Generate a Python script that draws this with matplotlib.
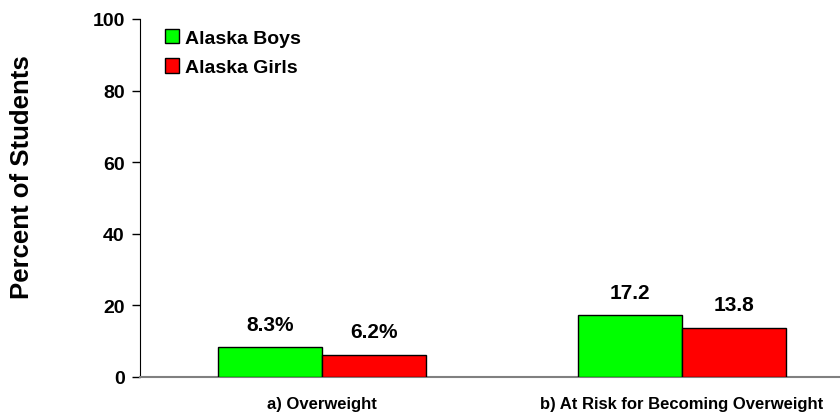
import matplotlib
matplotlib.use("Agg")
import matplotlib.pyplot as plt
import numpy as np

plt.rcParams['font.family'] = ['Liberation Sans', 'DejaVu Sans']

categories = ["a) Overweight", "b) At Risk for Becoming Overweight"]
series_names = ["Alaska Boys", "Alaska Girls"]
boys = [8.3, 17.2]
girls = [6.2, 13.8]
boys_labels = ["8.3%", "17.2"]
girls_labels = ["6.2%", "13.8"]
yticks = [0, 20, 40, 60, 80, 100]

fig = plt.figure(figsize=(8.4, 4.14), dpi=100)
ax = fig.add_axes([140/840, (414-378)/414, 700/840, (378-20)/414])

x = np.arange(len(categories))
w = 0.29
b1 = ax.bar(x - w/2, boys, w, color='#00FF00', edgecolor='black', linewidth=1, label=series_names[0], zorder=3)
b2 = ax.bar(x + w/2, girls, w, color='#FF0000', edgecolor='black', linewidth=1, label=series_names[1], zorder=3)

for rect, lab in zip(b1, boys_labels):
    ax.text(rect.get_x() + rect.get_width()/2, rect.get_height() + 3.8, lab,
            ha='center', va='bottom', fontsize=15, fontweight='bold')
for rect, lab in zip(b2, girls_labels):
    ax.text(rect.get_x() + rect.get_width()/2, rect.get_height() + 3.8, lab,
            ha='center', va='bottom', fontsize=15, fontweight='bold')

ax.set_xlim(-0.506, 1.439)
ax.set_ylim(0, 100)
ax.set_yticks(yticks)
ax.set_yticklabels([str(t) for t in yticks], fontsize=14, fontweight='bold')
ax.set_xticks(x)
ax.set_xticklabels(categories, fontsize=12, fontweight='bold')
ax.tick_params(axis='x', length=0, pad=14)
ax.tick_params(axis='y', length=6, width=1, direction='out', pad=5)
ax.spines['top'].set_visible(False)
ax.spines['right'].set_visible(False)
ax.spines['left'].set_color('black')
ax.spines['bottom'].set_color('#808080')
ax.spines['bottom'].set_linewidth(1.5)

fig.text(22/840, 1 - 177/414, "Percent of Students", rotation=90, ha='center', va='center',
         fontsize=18.5, fontweight='bold')

leg = ax.legend(loc='upper left', bbox_to_anchor=(15/700, 1.0), frameon=False,
                prop={'size': 14, 'weight': 'bold'}, handlelength=0.75, handleheight=0.75,
                handletextpad=0.3, labelspacing=0.6, borderaxespad=0.0, borderpad=0.5)

fig.savefig("out.png", dpi=100)
